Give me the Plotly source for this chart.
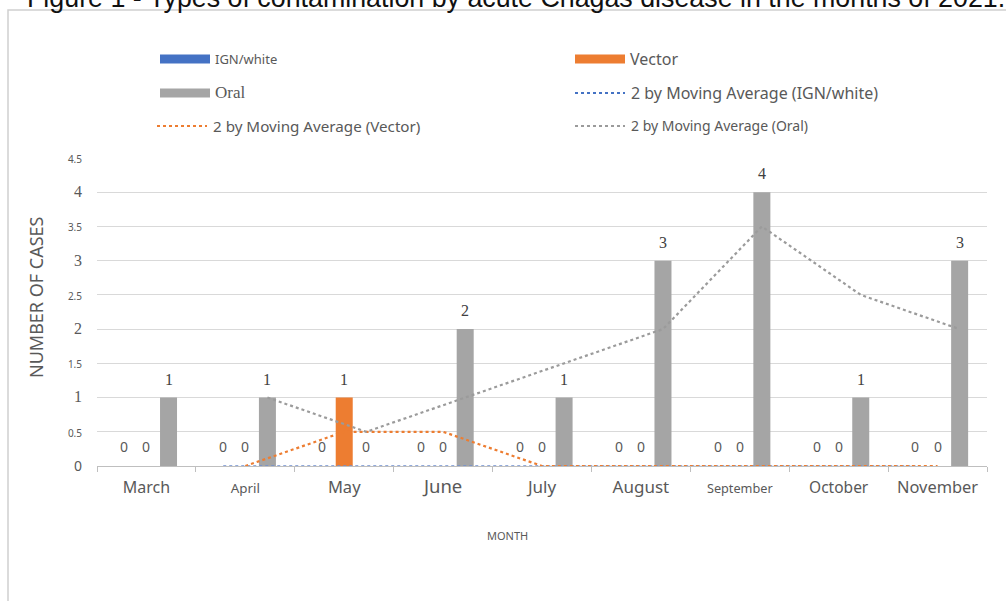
import plotly.graph_objects as go

# ---- data -----------------------------------------------------------------
months = ["March", "April", "May", "June", "July", "August",
          "September", "October", "November"]
ign_white = [0, 0, 0, 0, 0, 0, 0, 0, 0]
vector = [0, 0, 1, 0, 0, 0, 0, 0, 0]
oral = [1, 1, 0, 2, 1, 3, 4, 1, 3]
y_ticks = [0, 0.5, 1, 1.5, 2, 2.5, 3, 3.5, 4, 4.5]

title_text = "Figure 1 - Types of contamination by acute Chagas disease in the months of 2021."

# ---- styling ----------------------------------------------------------------
SANS = "Noto Sans"
SERIF = "Liberation Serif"
TEXT_GREY = "#595959"
C_IGN, C_VEC, C_ORAL = "#4472C4", "#ED7D31", "#A5A5A5"
month_font_size = {"March": 16, "April": 13.4, "May": 16.5, "June": 18.5, "July": 17,
                   "August": 17, "September": 12.7, "October": 15.5, "November": 16.4}

W, H = 1006, 601
L, R, T, B = 97, 19, 158, 135
PW, PH = W - L - R, H - T - B


def px_x(px):
    return (px - L) / PW


def px_y(py):
    return (H - B - py) / PH


BARGAP, BARGROUPGAP = 0.33, 0.23
slot = (1 - BARGAP) / 3
series = [
    ("IGN/white", ign_white, C_IGN, -slot),
    ("Vector", vector, C_VEC, 0.0),
    ("Oral", oral, C_ORAL, slot),
]


def moving_average(values, period=2):
    return [sum(values[i - period + 1:i + 1]) / period
            for i in range(period - 1, len(values))]


fig = go.Figure()

# clustered columns
for name, vals, color, _ in series:
    fig.add_trace(go.Bar(x=months, y=vals, name=name, marker_color=color,
                         marker_line_width=0, showlegend=False))

# 2-period moving-average trendlines, aligned with each series' column
ma_styles = {"IGN/white": ("#6f8fd0", 1.5), "Vector": (C_VEC, 2.2), "Oral": ("#9b9b9b", 2.2)}
for name, vals, color, off in series:
    ma = moving_average(vals)
    xs = [i + off for i in range(1, len(vals))]
    lc, lw = ma_styles[name]
    fig.add_trace(go.Scatter(x=xs, y=ma, xaxis="x2", mode="lines",
                             line=dict(color=lc, width=lw, dash="dot"),
                             name="2 by Moving Average (%s)" % name,
                             showlegend=False, hoverinfo="skip"))

annotations = []
# value labels above each column
for name, vals, color, off in series:
    for i, v in enumerate(vals):
        if v > 0:
            f = dict(family=SERIF, size=16, color="#404040")
        else:
            f = dict(family=SANS, size=14, color=TEXT_GREY)
        annotations.append(dict(x=i + off, y=v, xref="x2", yref="y", text=str(v),
                                showarrow=False, yanchor="bottom", yshift=8, font=f))

# title (runs off the top of the page)
annotations.append(dict(x=px_x(25), y=px_y(15), xref="paper", yref="paper",
                        xanchor="left", yanchor="bottom", showarrow=False,
                        text=title_text,
                        font=dict(family="Liberation Sans", size=26.8, color="#111111")))

# axis titles
annotations.append(dict(x=px_x(36), y=px_y(297), xref="paper", yref="paper",
                        xanchor="center", yanchor="middle",
                        text="NUMBER OF CASES", textangle=-90, showarrow=False,
                        font=dict(family=SANS, size=18, color=TEXT_GREY)))
annotations.append(dict(x=px_x(507), y=px_y(535), xref="paper", yref="paper",
                        xanchor="center", yanchor="middle",
                        text="MONTH", showarrow=False,
                        font=dict(family=SANS, size=11, color=TEXT_GREY)))

# legend (two columns, three rows)
shapes = []
legend_items = [
    ("bar", C_IGN, "IGN/white", 160, 59, dict(family=SANS, size=13)),
    ("bar", C_VEC, "Vector", 575, 59, dict(family=SANS, size=16)),
    ("bar", C_ORAL, "Oral", 160, 93, dict(family=SERIF, size=17)),
    ("dot", "#4472C4", "2 by Moving Average (IGN/white)", 575, 93, dict(family=SANS, size=16)),
    ("dot", C_VEC, "2 by Moving Average (Vector)", 157, 126, dict(family=SANS, size=15.2)),
    ("dot", "#9b9b9b", "2 by Moving Average (Oral)", 575, 126, dict(family=SANS, size=14)),
]
for kind, color, label, x0, yc, font in legend_items:
    if kind == "bar":
        shapes.append(dict(type="rect", xref="paper", yref="paper",
                           x0=px_x(x0), x1=px_x(x0 + 50), y0=px_y(yc - 4.5), y1=px_y(yc + 4.5),
                           fillcolor=color, line_width=0))
        tx = x0 + 53
    else:
        shapes.append(dict(type="line", xref="paper", yref="paper",
                           x0=px_x(x0), x1=px_x(x0 + 50), y0=px_y(yc), y1=px_y(yc),
                           line=dict(color=color, width=2, dash="dot")))
        tx = x0 + 54
    annotations.append(dict(x=px_x(tx), y=px_y(yc), xref="paper", yref="paper",
                            xanchor="left", yanchor="middle", showarrow=False, text=label,
                            font=dict(color=TEXT_GREY, **font)))

# surrounding frame
shapes.append(dict(type="rect", xref="paper", yref="paper",
                   x0=px_x(8), x1=px_x(W + 20), y0=px_y(10), y1=px_y(H + 20),
                   line=dict(color="#d0d0d0", width=1.5), fillcolor="rgba(0,0,0,0)",
                   layer="below"))


def y_label(v):
    if v == int(v) and v > 0:
        return '<span style="font-family:%s;font-size:16px">%d</span>' % (SERIF, int(v))
    if v == 0:
        return '<span style="font-size:14px">0</span>'
    return '<span style="font-size:10px">%s</span>' % v


x_labels = ['<span style="font-size:%spx">%s</span>' % (month_font_size[m], m) for m in months]

fig.update_layout(
    width=W, height=H,
    margin=dict(l=L, r=R, t=T, b=B),
    paper_bgcolor="white", plot_bgcolor="white",
    barmode="group", bargap=BARGAP, bargroupgap=BARGROUPGAP,
    font=dict(family=SANS, color=TEXT_GREY),
    xaxis=dict(type="category", categoryorder="array", categoryarray=months,
               range=[-0.5, len(months) - 0.5], tickmode="array",
               tickvals=months, ticktext=x_labels,
               tickson="boundaries", ticks="outside", ticklen=5,
               tickcolor="#bfbfbf", showline=True, linecolor="#bfbfbf",
               linewidth=1, showgrid=False, ticklabelstandoff=8,
               tickfont=dict(size=15, color=TEXT_GREY)),
    xaxis2=dict(overlaying="x", anchor="y", range=[-0.5, len(months) - 0.5],
                visible=False),
    yaxis=dict(range=[0, 4.5], tickmode="array", tickvals=y_ticks,
               ticktext=[y_label(v) for v in y_ticks],
               showgrid=True, gridcolor="#d9d9d9", gridwidth=1, zeroline=False,
               showline=False, ticks="", ticklabelstandoff=14,
               tickfont=dict(size=14, color=TEXT_GREY)),
    annotations=annotations,
    shapes=shapes,
    showlegend=False,
)

fig.write_html("out.html")
